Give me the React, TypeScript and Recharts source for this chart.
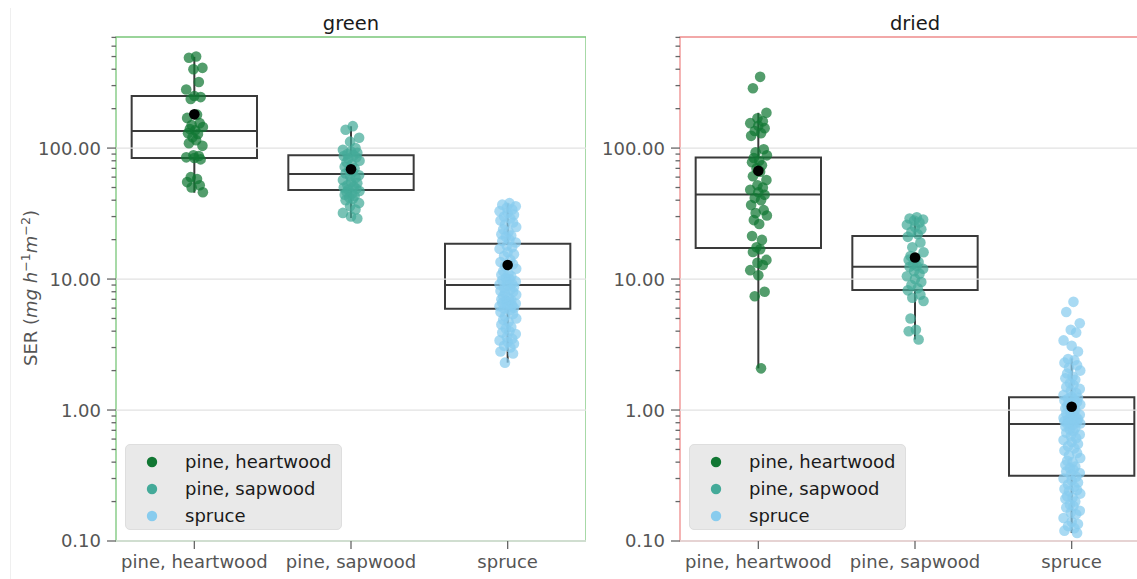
import React from 'react';
import { ComposedChart, XAxis, YAxis, Scatter, ReferenceLine, ReferenceArea, Legend } from 'recharts';

// ---------- data ----------
const CATEGORIES = ['pine, heartwood', 'pine, sapwood', 'spruce'];
const PANEL_TITLES = ['green', 'dried'];

const Y_MAJOR = [0.1, 1, 10, 100];
const Y_MINOR = [0.2, 0.3, 0.4, 0.5, 0.6, 0.7, 0.8, 0.9, 2, 3, 4, 5, 6, 7, 8, 9, 20, 30, 40, 50, 60, 70, 80, 90, 200, 300, 400, 500, 600, 700];
const Y_DOMAIN = [0.1, 705];

// green panel – individual measurements
const GREEN_HEART = [500, 490, 410, 400, 320, 280, 250, 245, 237, 180, 170, 155, 150, 145, 140, 137, 130, 128, 121, 115, 109, 104, 88, 87, 85, 84, 82, 60, 58, 55, 52, 50, 46];
const GREEN_SAP = [147, 138, 120, 112, 100, 97, 94, 92, 90, 88, 87, 85, 83, 80, 78, 75, 72, 70, 68, 66, 64, 62, 61, 59, 57, 55, 54, 52, 51, 50, 49, 48, 47, 46, 45, 44, 43, 42, 41, 40, 38, 36, 34, 32, 30, 29];
const GREEN_SPRUCE = [38, 37, 36, 35, 34, 33, 32, 31, 30, 29, 28, 27, 26, 25, 24, 23, 22, 21.5, 21, 20, 19.5, 19,
  18, 17.5, 17, 16, 15.5, 15, 14, 13.5, 13, 12.5, 12, 11.5, 11, 10.8, 10.5, 10.2, 10, 9.8, 9.6, 9.4, 9.2, 9.1,
  8.9, 8.7, 8.5, 8.3, 8.1, 8, 7.8, 7.6, 7.4, 7.2, 7, 6.9, 6.8, 6.7, 6.6, 6.5, 6.4, 6.3, 6.2, 6.1, 6.0, 5.95,
  5.8, 5.6, 5.4, 5.2, 5.0, 4.9, 4.7, 4.5, 4.3, 4.2, 4.0, 3.9, 3.8, 3.6, 3.5, 3.4, 3.3, 3.2, 3.1, 3.0, 2.8, 2.7, 2.3];

// dried panel – individual measurements
const DRIED_HEART = [350, 286, 186, 169, 160, 155, 148, 142, 135, 130, 124, 98, 93, 88, 84, 80, 78, 74, 70, 66, 61, 57, 52, 50, 48, 46, 44, 41.5, 40, 36.7, 33.6, 31.9, 30.6, 28.2, 26.3, 21.3, 19.9, 17.5, 16.9, 16.1, 14, 13.3, 12.8, 11.7, 10.7, 8.0, 7.4, 2.08];
const DRIED_SAP = [29.6, 29, 28.5, 28, 27, 26, 25, 24, 23, 22, 21, 19, 17.5, 16, 15, 14.5, 14, 13.5, 13, 12.6, 12.4, 12, 11.5, 11, 10.5, 10, 9.5, 9, 8.5, 8.2, 7.6, 7.2, 6.8, 5, 4.1, 4.0, 3.46];
const DRIED_SPRUCE = [6.7, 5.6, 4.6, 4.1, 3.9, 3.4, 3.1, 2.8,
  2.45, 2.4, 2.3, 2.2, 2.1, 2.0, 1.9, 1.8, 1.75, 1.7, 1.6, 1.55, 1.5, 1.45, 1.4, 1.35, 1.3, 1.27,
  1.24, 1.22, 1.2, 1.18, 1.15, 1.12, 1.1, 1.08, 1.05, 1.03, 1.0, 0.98, 0.96, 0.94, 0.92, 0.9, 0.88, 0.87, 0.86, 0.85, 0.84, 0.83, 0.82, 0.81, 0.8, 0.79, 0.785,
  0.77, 0.75, 0.73, 0.71, 0.69, 0.67, 0.65, 0.63, 0.61, 0.59, 0.57, 0.55, 0.53, 0.51, 0.49, 0.47, 0.45, 0.43, 0.41, 0.4, 0.38, 0.37, 0.36, 0.35, 0.34, 0.33, 0.32,
  0.31, 0.3, 0.29, 0.28, 0.27, 0.26, 0.25, 0.245, 0.24, 0.23, 0.22, 0.215, 0.21, 0.2, 0.19, 0.185, 0.18, 0.17, 0.165, 0.16, 0.15, 0.14, 0.135, 0.13, 0.125, 0.12, 0.115];

// box statistics per category (heartwood, sapwood, spruce)
const GREEN_LOW = [45.6, 29.2, 2.3];
const GREEN_Q1 = [84, 47.8, 5.93];
const GREEN_MEDIAN = [135, 63.3, 9.0];
const GREEN_Q3 = [250, 88, 18.6];
const GREEN_HIGH = [498, 147, 37.8];
const GREEN_MEAN = [181, 69, 12.8];

const DRIED_LOW = [2.08, 3.46, 0.115];
const DRIED_Q1 = [17.3, 8.24, 0.315];
const DRIED_MEDIAN = [44.3, 12.4, 0.782];
const DRIED_Q3 = [84.9, 21.3, 1.25];
const DRIED_HIGH = [186, 29.6, 2.48];
const DRIED_MEAN = [67, 14.6, 1.06];

// ---------- style ----------
const COLORS = ['#117733', '#44AA99', '#88CCEE'];
const BORDERS = ['#79c679', '#ee8c8c'];
const FONT = '"DejaVu Sans", Verdana, sans-serif';
const TICK_COLOR = '#555555';
const BOX_COLOR = '#3a3a3a';
const JITTER = [0.2, -0.6, 0.9, -0.1, 0.5, -0.9, 0.0, 0.7, -0.4, 0.3, -0.8, 0.6, -0.3, 0.95, -0.5, 0.1, -0.7, 0.4, -0.2];
const Y_TICKS = [...Y_MAJOR, ...Y_MINOR];

const YTick = (props: any) => {
  const { x, y, payload } = props;
  const v = payload.value;
  const major = Y_MAJOR.includes(v);
  return (
    <g>
      <line x1={x - (major ? 9 : 4.5)} x2={x} y1={y} y2={y} stroke="#666" strokeWidth={1.3} />
      {major && (
        <text x={x - 15} y={y} dy="0.36em" textAnchor="end" fill={TICK_COLOR} fontSize={18} fontFamily={FONT}>
          {v.toFixed(2)}
        </text>
      )}
    </g>
  );
};

const LegendBox = () => (
  <div style={{
    position: 'relative', width: 217, height: 86, boxSizing: 'border-box',
    background: '#e9e9e9', border: '1px solid #dedede', borderRadius: 5, fontFamily: FONT,
  }}>
    {CATEGORIES.map((c, i) => (
      <div key={c} style={{ position: 'absolute', left: 0, top: 17 + i * 27 - 12, height: 24, width: 217 }}>
        <svg width={12} height={12} style={{ position: 'absolute', left: 20, top: 6 }}>
          <circle cx={6} cy={6} r={5.2} fill={COLORS[i]} />
        </svg>
        <span style={{ position: 'absolute', left: 59, top: 0, fontSize: 18, lineHeight: '24px', color: '#1a1a1a', whiteSpace: 'nowrap' }}>{c}</span>
      </div>
    ))}
  </div>
);

type PanelProps = {
  left: number; border: string; groups: number[][];
  low: number[]; q1: number[]; median: number[]; q3: number[]; high: number[]; mean: number[];
};

const Panel = ({ left, border, groups, low, q1, median, q3, high, mean }: PanelProps) => {
  const meanData = mean.map((y, i) => ({ x: i, y }));
  return (
    <div style={{ position: 'absolute', left, top: 0 }}>
      <ComposedChart width={586} height={579} margin={{ top: 37, right: 0, bottom: 0, left: 0 }}>
        <XAxis type="number" dataKey="x" domain={[-0.5, 2.5]} allowDataOverflow ticks={[0, 1, 2]} interval={0}
          tickFormatter={(i: number) => CATEGORIES[i]} axisLine={false} tickSize={8} tickMargin={6} height={38}
          tickLine={{ stroke: '#666', strokeWidth: 1.3 }} tick={{ fill: TICK_COLOR, fontSize: 18, fontFamily: FONT }} />
        <YAxis type="number" dataKey="y" scale="log" domain={Y_DOMAIN} allowDataOverflow ticks={Y_TICKS} interval={0}
          width={116} axisLine={false} tickLine={false} tickSize={0} tickMargin={0} tick={YTick} />
        {Y_MAJOR.map((v) => (
          <ReferenceLine key={'g' + v} y={v} stroke="#e2e2e2" strokeWidth={1.3} />
        ))}
        {CATEGORIES.map((c, i) => (
          <ReferenceLine key={'wh' + i} segment={[{ x: i, y: q3[i] }, { x: i, y: high[i] }]} stroke={BOX_COLOR} strokeWidth={2} />
        ))}
        {CATEGORIES.map((c, i) => (
          <ReferenceLine key={'wl' + i} segment={[{ x: i, y: low[i] }, { x: i, y: q1[i] }]} stroke={BOX_COLOR} strokeWidth={2} />
        ))}
        {CATEGORIES.map((c, i) => (
          <ReferenceArea key={'b' + i} x1={i - 0.4} x2={i + 0.4} y1={q1[i]} y2={q3[i]} fill="none" fillOpacity={0}
            stroke={BOX_COLOR} strokeWidth={2} />
        ))}
        {CATEGORIES.map((c, i) => (
          <ReferenceLine key={'m' + i} segment={[{ x: i - 0.4, y: median[i] }, { x: i + 0.4, y: median[i] }]} stroke={BOX_COLOR} strokeWidth={2} />
        ))}
        {CATEGORIES.map((c, ci) => (
          <Scatter key={c} name={c} data={groups[ci].map((y, k) => ({ x: ci, y, k }))} dataKey="y" fill={COLORS[ci]}
            isAnimationActive={false}
            shape={(p: any) => (
              <circle cx={p.cx + JITTER[p.payload.k % JITTER.length] * 9} cy={p.cy} r={5.3} fill={COLORS[ci]} fillOpacity={0.72} />
            )} />
        ))}
        <Scatter name="mean" data={meanData} dataKey="y" fill="#000" legendType="none" isAnimationActive={false}
          shape={(p: any) => <circle cx={p.cx} cy={p.cy} r={5.3} fill="#000" />} />
        <ReferenceArea x1={-0.5} x2={2.5} y1={Y_DOMAIN[0]} y2={Y_DOMAIN[1]} fill="none" fillOpacity={0}
          stroke={border} strokeWidth={1.3} ifOverflow="visible" />
        <Legend layout="vertical" align="center" verticalAlign="middle" content={() => <LegendBox />}
          wrapperStyle={{ left: 125, top: 444, width: 217, height: 86 }} />
      </ComposedChart>
    </div>
  );
};

export default function App() {
  return (
    <div style={{ position: 'absolute', left: 0, top: 0, width: 1137, height: 579, overflow: 'hidden', background: '#fff' }}>
      <Panel left={0} border={BORDERS[0]} groups={[GREEN_HEART, GREEN_SAP, GREEN_SPRUCE]}
        low={GREEN_LOW} q1={GREEN_Q1} median={GREEN_MEDIAN} q3={GREEN_Q3} high={GREEN_HIGH} mean={GREEN_MEAN} />
      <Panel left={564} border={BORDERS[1]} groups={[DRIED_HEART, DRIED_SAP, DRIED_SPRUCE]}
        low={DRIED_LOW} q1={DRIED_Q1} median={DRIED_MEDIAN} q3={DRIED_Q3} high={DRIED_HIGH} mean={DRIED_MEAN} />
      <svg width={1137} height={579} style={{ position: 'absolute', left: 0, top: 0, pointerEvents: 'none' }}>
        <line x1={10.5} x2={10.5} y1={8} y2={579} stroke="#efefef" strokeWidth={1} />
        <text x={351} y={30} textAnchor="middle" fontSize={19.5} fill="#1a1a1a" fontFamily={FONT}>{PANEL_TITLES[0]}</text>
        <text x={915} y={30} textAnchor="middle" fontSize={19.5} fill="#1a1a1a" fontFamily={FONT}>{PANEL_TITLES[1]}</text>
        <text transform="translate(36.5,288) rotate(-90)" textAnchor="middle" fontSize={18} fill={TICK_COLOR} fontFamily={FONT}>
          SER (<tspan fontStyle="italic">mg h</tspan>
          <tspan fontSize={12.6} dy={-7}>−1</tspan>
          <tspan fontStyle="italic" dy={7}>m</tspan>
          <tspan fontSize={12.6} dy={-7}>−2</tspan>
          <tspan dy={7}>)</tspan>
        </text>
      </svg>
    </div>
  );
}
